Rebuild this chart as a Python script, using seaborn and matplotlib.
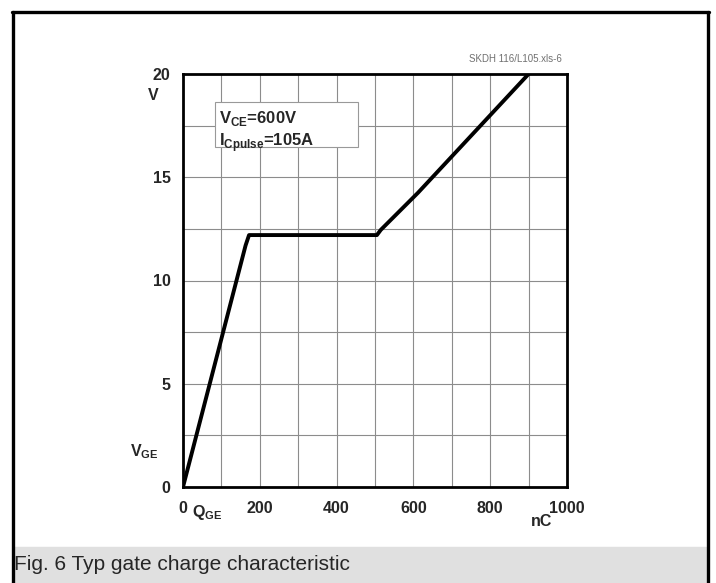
import matplotlib
matplotlib.use("Agg")
import matplotlib.pyplot as plt
import seaborn as sns
import pandas as pd
from matplotlib.patches import Rectangle
from matplotlib.lines import Line2D

# gate charge curve
q_ge = [0, 163, 172, 300, 505, 515, 612, 900]
v_ge = [0, 11.7, 12.2, 12.2, 12.2, 12.45, 14.25, 20]

x_ticks = [0, 200, 400, 600, 800, 1000]
x_labels = ["0", "200", "400", "600", "800", "1000"]
y_ticks = [0, 5, 10, 15, 20]
y_labels = ["0", "5", "10", "15", "20"]

W, H = 716, 583


def fx(px):
    return px / W


def fy(py):
    return 1 - py / H


def gate_charge():
    sns.set_style("white")
    plt.rcParams["font.family"] = ["Liberation Sans", "DejaVu Sans"]
    fig = plt.figure(figsize=(W / 100, H / 100), dpi=100)

    ax = fig.add_axes([fx(183), fy(487), (567 - 183) / W, (487 - 74) / H])
    df = pd.DataFrame({"Q": q_ge, "V": v_ge})
    sns.lineplot(data=df, x="Q", y="V", sort=False, color="black",
                 linewidth=2.8, ax=ax)

    ax.set_xlim(0, 1000)
    ax.set_ylim(0, 20)
    ax.set_xticks(x_ticks)
    ax.set_xticklabels(x_labels, fontweight="bold", fontsize=11.5)
    ax.set_yticks(y_ticks)
    ax.set_yticklabels(y_labels, fontweight="bold", fontsize=11.5)
    ax.set_xticks(range(100, 1000, 200), minor=True)
    ax.set_yticks([2.5, 7.5, 12.5, 17.5], minor=True)
    ax.tick_params(which="both", length=0)
    ax.tick_params(axis="x", pad=10)
    ax.tick_params(axis="y", pad=9)
    ax.grid(True, which="both", color="#8c8c8c", linewidth=0.8)
    ax.set_xlabel("")
    ax.set_ylabel("")
    for s in ax.spines.values():
        s.set_color("black")
        s.set_linewidth(2)

    # axis unit labels
    fig.text(fx(153), fy(95), "V", fontweight="bold", fontsize=11.5,
             ha="center", va="center")
    fig.text(fx(130), fy(452), "V$_{\\mathregular{GE}}$", fontweight="bold",
             fontsize=11.5, ha="left", va="center")
    fig.text(fx(192), fy(513), "Q$_{\\mathregular{GE}}$", fontweight="bold",
             fontsize=11.5, ha="left", va="center")
    fig.text(fx(542), fy(522), "nC", fontweight="bold", fontsize=11.5,
             ha="center", va="center")
    fig.text(fx(562), fy(59), "SKDH 116/L105.xls-6", fontsize=7,
             color="#707070", ha="right", va="center")

    # condition box
    ax.add_patch(Rectangle((83, 16.46), 456 - 83, 18.64 - 16.46,
                           fc="white", ec="#999999", lw=0.8, zorder=3))
    ax.text(95, 18.3,
            "V$_{\\mathregular{CE}}$=600V\nI$_{\\mathregular{Cpulse}}$=105A",
            fontweight="bold", fontsize=12, ha="left", va="top",
            linespacing=1.2, zorder=4)

    # caption band and frame
    fig.patches.append(Rectangle((fx(14), 0), fx(706) - fx(14), 36 / H,
                                 transform=fig.transFigure,
                                 color="#e0e0e0", zorder=0))
    fig.text(fx(14), fy(564), "Fig. 6 Typ gate charge characteristic",
             fontsize=15, ha="left", va="center")
    lw = 2.4
    fig.lines.append(Line2D([fx(12.5), fx(12.5)], [0, fy(11.5)],
                            transform=fig.transFigure, color="black", lw=lw))
    fig.lines.append(Line2D([fx(707.5), fx(707.5)], [0, fy(11.5)],
                            transform=fig.transFigure, color="black", lw=lw))
    fig.lines.append(Line2D([fx(11.5), fx(708.5)], [fy(11.5), fy(11.5)],
                            transform=fig.transFigure, color="black", lw=lw))

    fig.savefig("out.png", dpi=100)


def main():
    gate_charge()


if __name__ == "__main__":
    main()
